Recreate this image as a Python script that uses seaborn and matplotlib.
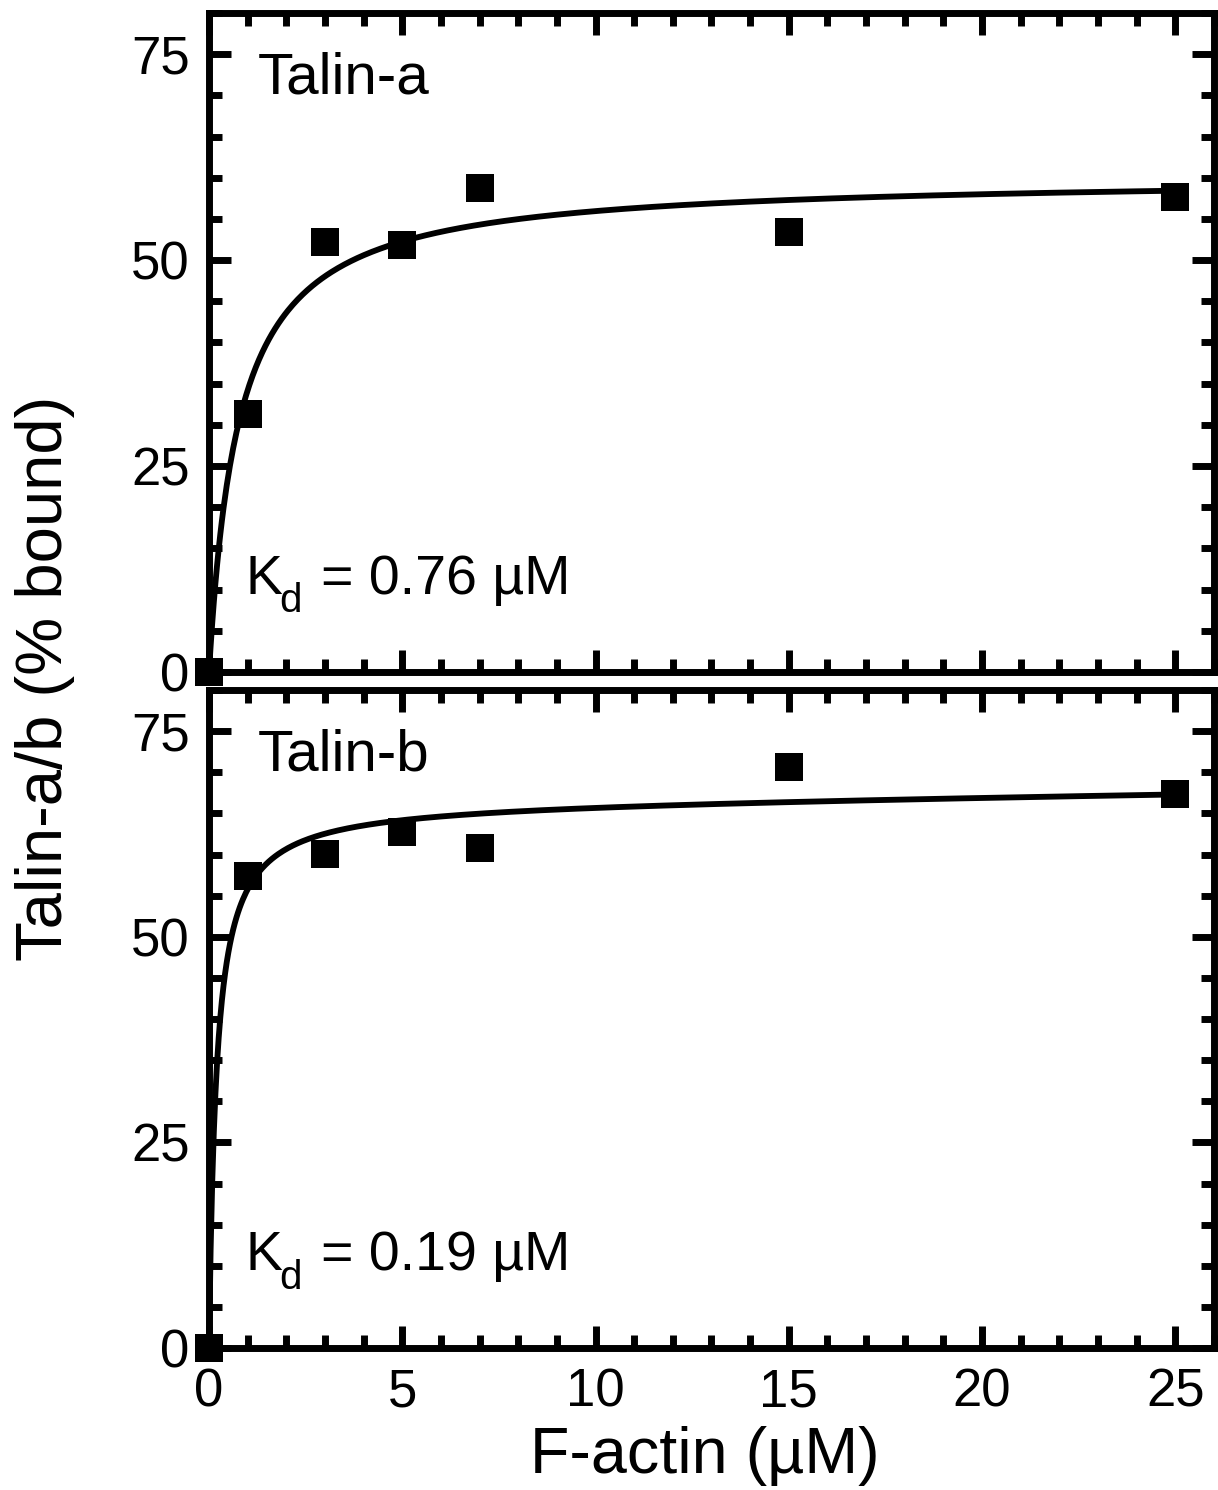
import numpy as np
import pandas as pd
import seaborn as sns
import matplotlib.pyplot as plt
from matplotlib.ticker import MultipleLocator

# ----------------------------- data ------------------------------
actin_uM = [0, 1, 3, 5, 7, 15, 25]
talin_a_bound = [0, 31.3, 52.2, 51.8, 58.8, 53.4, 57.6]
talin_b_bound = [0, 57.4, 60.1, 62.7, 60.8, 70.7, 67.3]

# binding fits: Kd from the figure, Bmax / slow linear term
kd_a, bmax_a, slope_a = 0.76, 60.2, 0.0
kd_b, bmax_b, slope_b = 0.19, 66.3, 0.06

panel_names = ["Talin-a", "Talin-b"]
kd_labels = ["0.76", "0.19"]

# ----------------------------- style -----------------------------
sns.set_theme(style="ticks")
plt.rcParams["font.family"] = ["Liberation Sans", "DejaVu Sans"]
for key in ["text.color", "axes.labelcolor", "xtick.color", "ytick.color"]:
    plt.rcParams[key] = "black"

LW = 5
fig = plt.figure(figsize=(12.18, 14.9), dpi=100)
ax_top = fig.add_axes([0.1716, 0.549, 0.8251, 0.4423])
ax_bot = fig.add_axes([0.1716, 0.0953, 0.8251, 0.4416])

x_fit = np.linspace(0, 25, 600)
panels = [
    (ax_top, talin_a_bound, kd_a, bmax_a, slope_a),
    (ax_bot, talin_b_bound, kd_b, bmax_b, slope_b),
]

for i, (ax, yvals, kd, bmax, slope) in enumerate(panels):
    pts = pd.DataFrame({"x": actin_uM, "y": yvals})
    fit = pd.DataFrame({"x": x_fit, "y": bmax * x_fit / (kd + x_fit) + slope * x_fit})
    sns.lineplot(data=fit, x="x", y="y", color="black", linewidth=4.2, ax=ax,
                 estimator=None, clip_on=False, zorder=2)
    sns.scatterplot(data=pts, x="x", y="y", marker="s", s=400, color="black",
                    linewidth=0, ax=ax, clip_on=False, zorder=3)

    ax.set_xlim(0, 26)
    ax.set_ylim(0, 80)
    ax.xaxis.set_major_locator(MultipleLocator(5))
    ax.xaxis.set_minor_locator(MultipleLocator(1))
    ax.yaxis.set_major_locator(MultipleLocator(25))
    ax.yaxis.set_minor_locator(MultipleLocator(5))
    ax.set_yticks([0, 25, 50, 75])
    ax.tick_params(which="both", direction="in", top=True, right=True,
                   width=LW, color="black", labelsize=38, pad=14)
    ax.tick_params(which="major", length=16)
    ax.tick_params(which="minor", length=9.5)
    for sp in ax.spines.values():
        sp.set_linewidth(LW)
        sp.set_color("black")
    ax.set_xlabel("")
    ax.set_ylabel("")

    ax.text(1.25, 72, panel_names[i], fontsize=42, ha="left", va="center")
    # K with a lowered subscript d, then the value
    ax.text(0.95, 9.5, "K", fontsize=40, ha="left", va="baseline")
    ax.annotate("d", xy=(0.95, 9.5), xytext=(24, -13.5), textcoords="offset points",
                fontsize=29, ha="left", va="baseline")
    ax.annotate("= " + kd_labels[i] + " µM", xy=(0.95, 9.5), xytext=(54, 0),
                textcoords="offset points", fontsize=40, ha="left", va="baseline")

ax_top.tick_params(labelbottom=False)

fig.text(0.037, 0.545, "Talin-a/b (% bound)", rotation=90, fontsize=47,
         ha="center", va="center")
fig.text(0.579, 0.023, "F-actin (µM)", fontsize=46.5, ha="center", va="center")

fig.savefig("out.png", dpi=100)
